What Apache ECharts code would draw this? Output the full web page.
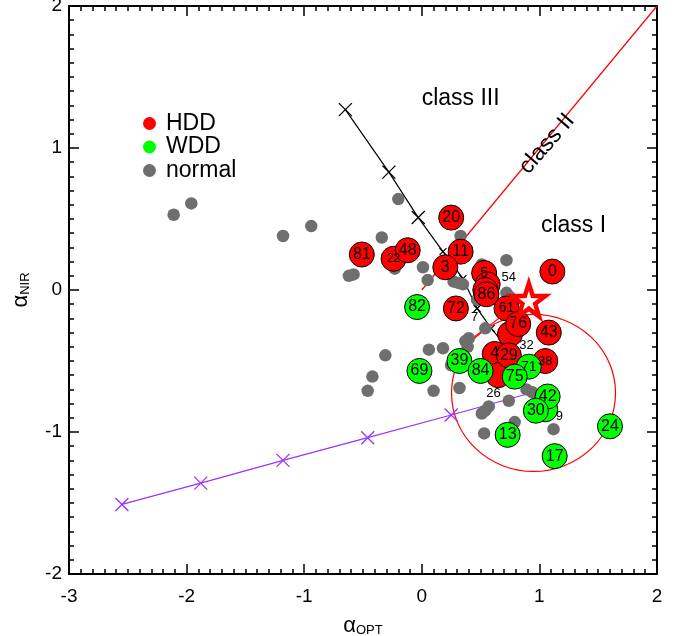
<!DOCTYPE html>
<html><head><meta charset="utf-8">
<script src="https://cdn.jsdelivr.net/npm/echarts@6/dist/echarts.min.js"></script>
<style>html,body{margin:0;padding:0;background:#fff}#c{width:676px;height:636px}</style>
</head><body><div id="c"></div>
<script>
const FONT = '"Liberation Sans", Arial, Helvetica, sans-serif';

// axis ranges / ticks
const xRange = [-3, 2];
const yRange = [-2, 2];

// normal (grey) sources
const normalX = [-2.11,-1.96,-1.18,-0.94,-0.20,-0.34,-0.58,-0.62,-0.23,0.01,0.05,0.33,0.51,0.72,0.27,0.31,0.35,0.47,0.72,0.75,0.54,0.40,0.37,0.06,0.18,-0.31,-0.42,-0.46,0.10,0.32,0.25,0.74,0.57,0.54,0.51,0.53,0.79,1.12,0.89,0.94,0.39];
const normalY = [0.53,0.61,0.38,0.45,0.64,0.37,0.11,0.10,0.15,0.16,0.07,0.38,0.18,0.21,0.06,0.05,0.04,-0.07,-0.02,-0.05,-0.27,-0.34,-0.36,-0.42,-0.41,-0.46,-0.61,-0.71,-0.71,-0.69,-0.53,-0.78,-0.82,-0.85,-0.87,-1.01,-0.93,-0.98,-0.70,-0.72,-0.40];

// HDD (red)
const hddX = [0.25,-0.51,-0.24,-0.12,0.33,0.20,0.53,0.56,0.54,0.55,1.11,0.29,0.72,0.75,0.82,1.08,0.62,0.65,0.74,1.05];
const hddY = [0.51,0.25,0.22,0.28,0.27,0.16,0.12,0.04,0.00,-0.03,0.13,-0.13,-0.13,-0.31,-0.24,-0.30,-0.45,-0.60,-0.46,-0.50];
const hddLabels = ['20','81','22','48','11','3','5','','','86','0','72','61','','76','43','4','','29','38'];

// WDD (green)
const wddX = [-0.04,-0.02,0.32,0.50,0.91,0.79,1.05,1.07,0.97,0.73,1.13,1.60];
const wddY = [-0.12,-0.57,-0.50,-0.57,-0.54,-0.61,-0.84,-0.75,-0.85,-1.02,-1.17,-0.96];
const wddLabels = ['82','69','39','84','71','75','','42','30','13','17','24'];

// small ID labels of hidden sources
const smallX = [0.74,0.45,0.89,0.61,1.17];
const smallY = [0.09,-0.19,-0.39,-0.73,-0.89];
const smallLabels = ['54','7','32','26','9'];

// reddening vectors
const purpleX = [-2.55,-1.88,-1.18,-0.46,0.25,0.95];
const purpleY = [-1.51,-1.36,-1.20,-1.04,-0.88,-0.72];
const blackX = [-0.65,-0.28,-0.03,0.18,0.35,0.47,0.59,0.68];
const blackY = [1.27,0.83,0.51,0.27,0.08,-0.13,-0.27,-0.36];

// red class lines
const classLineX = [0, 2];
const classLineY = [0, 2];
const redSegX = [0.35, 0.88];
const redSegY = [-0.39, -0.06];

// ring and star
const ringX = [0.95];
const ringY = [-0.725];
const starX = [0.91];
const starY = [-0.07];

// class annotations
const classText = ['class III','class I','class II'];
const classX = [0.33, 1.29, 1.065];
const classY = [1.35, 0.45, 1.03];

const zip = (xs, ys) => xs.map((x, i) => [x, ys[i]]);
const STAR = 'path://M50,0 L61.8,35.1 L98.9,35.1 L68.9,56.8 L80.3,91.9 L50,70.2 L19.7,91.9 L31.1,56.8 L1.1,35.1 L38.2,35.1 Z';
const XMARK = 'path://M0,0 L10,10 M10,0 L0,10';
const labelFont = {'22':12,'61':14,'38':13,'71':14,'5':14,'4':16};

function axisCommon(show) {
  return {
    type: 'value', interval: 1,
    axisLine: {show: true, onZero: false, lineStyle: {color: '#000', width: 2}},
    axisTick: {show: true, inside: true, length: 10, lineStyle: {color: '#000', width: 1.5}},
    minorTick: {show: true, splitNumber: 10, length: 5, lineStyle: {color: '#000', width: 1.5}},
    splitLine: {show: false},
    axisLabel: {show: show, color: '#000', fontSize: 19, fontFamily: FONT}
  };
}
const nameRich = {
  a: {fontSize: 22, fontFamily: FONT, color: '#000', verticalAlign: 'bottom', lineHeight: 26},
  s: {fontSize: 13, fontFamily: FONT, color: '#000', verticalAlign: 'bottom', lineHeight: 20}
};

const labelSeries = (name, xs, ys, labels, color) => ({
  name: name, type: 'scatter', symbol: 'circle', symbolSize: 25,
  itemStyle: {color: color, borderColor: '#000', borderWidth: 1, opacity: 1},
  label: {show: true, position: 'inside', color: '#000', fontFamily: FONT,
    formatter: p => p.data.lab},
  data: xs.map((x, i) => ({value: [x, ys[i]], lab: labels[i],
    label: {fontSize: labelFont[labels[i]] || 16}})),
  z: 5
});

const chart = echarts.init(document.getElementById('c'), null, {renderer: 'canvas'});
chart.setOption({
  animation: false,
  backgroundColor: '#fff',
  grid: {left: 69, right: 19, top: 6, bottom: 62, containLabel: false, outerBoundsMode: 'none'},
  legend: {
    orient: 'vertical', left: 143, top: 112, padding: 0, itemWidth: 13, itemHeight: 13, itemGap: 0.5,
    textStyle: {fontSize: 23, fontFamily: FONT, color: '#000', lineHeight: 23, padding: [0,0,0,5]},
    data: [
      {name: 'HDD', icon: 'circle', itemStyle: {borderWidth: 0}},
      {name: 'WDD', icon: 'circle', itemStyle: {borderWidth: 0}},
      {name: 'normal', icon: 'circle', itemStyle: {borderWidth: 0}}
    ]
  },
  xAxis: [
    Object.assign(axisCommon(true), {min: xRange[0], max: xRange[1], position: 'bottom',
      axisLabel: {show: true, color: '#000', fontSize: 19, fontFamily: FONT, margin: 13},
      name: '{a|α}{s|OPT}', nameLocation: 'middle', nameGap: 37,
      nameTextStyle: {rich: nameRich}}),
    Object.assign(axisCommon(false), {min: xRange[0], max: xRange[1], position: 'top'})
  ],
  yAxis: [
    Object.assign(axisCommon(true), {min: yRange[0], max: yRange[1], position: 'left',
      axisLabel: {show: true, color: '#000', fontSize: 19, fontFamily: FONT, margin: 7},
      name: '{a|α}{s|NIR}', nameLocation: 'middle', nameRotate: 90, nameGap: 37,
      nameTextStyle: {rich: nameRich}}),
    Object.assign(axisCommon(false), {min: yRange[0], max: yRange[1], position: 'right'})
  ],
  series: [
    {name: 'classline', type: 'line', data: zip(classLineX, classLineY), showSymbol: false,
      lineStyle: {color: '#ff0000', width: 1.2}, silent: true, z: 1},
    {name: 'redseg', type: 'line', data: zip(redSegX, redSegY), showSymbol: false,
      lineStyle: {color: '#ff0000', width: 1.2}, silent: true, z: 1},
    {name: 'ring', type: 'scatter', data: zip(ringX, ringY), symbol: 'circle', symbolSize: [164, 157],
      itemStyle: {color: 'rgba(0,0,0,0)', borderColor: '#ff0000', borderWidth: 1.2, opacity: 1}, silent: true, z: 1},
    {name: 'purple', type: 'line', silent: true, z: 2,
      data: purpleX.map((x, i) => ({value: [x, purpleY[i]], symbolSize: i < purpleX.length - 1 ? 13 : 0})),
      symbol: XMARK, showSymbol: true,
      lineStyle: {color: '#9933ff', width: 1.2},
      itemStyle: {color: '#9933ff', borderColor: '#9933ff', borderWidth: 1.3}},
    {name: 'black', type: 'line', silent: true, z: 2,
      data: blackX.map((x, i) => ({value: [x, blackY[i]], symbolSize: i < 3 ? 13 : 7})),
      symbol: XMARK, showSymbol: true,
      lineStyle: {color: '#000', width: 1.2},
      itemStyle: {color: '#000', borderColor: '#000', borderWidth: 1.3}},
    {name: 'normal', type: 'scatter', symbol: 'circle', symbolSize: 12.5,
      itemStyle: {color: '#6e6e6e', opacity: 1}, data: zip(normalX, normalY), z: 3},
    labelSeries('HDD', hddX, hddY, hddLabels, '#ff0000'),
    labelSeries('WDD', wddX, wddY, wddLabels, '#00ff00'),
    {name: 'star', type: 'scatter', symbol: STAR, symbolSize: 33, data: zip(starX, starY),
      itemStyle: {color: '#fff', borderColor: '#ff0000', borderWidth: 4.5, opacity: 1}, silent: true, z: 6},
    {name: 'ids', type: 'scatter', symbolSize: 0, silent: true, z: 7,
      itemStyle: {opacity: 1},
      data: smallX.map((x, i) => ({value: [x, smallY[i]], lab: smallLabels[i]})),
      label: {show: true, position: 'inside', color: '#000', fontSize: 13, fontFamily: FONT,
        formatter: p => p.data.lab}},
    {name: 'classes', type: 'scatter', symbolSize: 0, silent: true, z: 7,
      itemStyle: {opacity: 1},
      data: classX.map((x, i) => ({value: [x, classY[i]], lab: classText[i],
        label: {rotate: i === 2 ? 49 : 0}})),
      label: {show: true, position: 'inside', color: '#000', fontSize: 23, fontFamily: FONT,
        formatter: p => p.data.lab}}
  ]
});
</script></body></html>
